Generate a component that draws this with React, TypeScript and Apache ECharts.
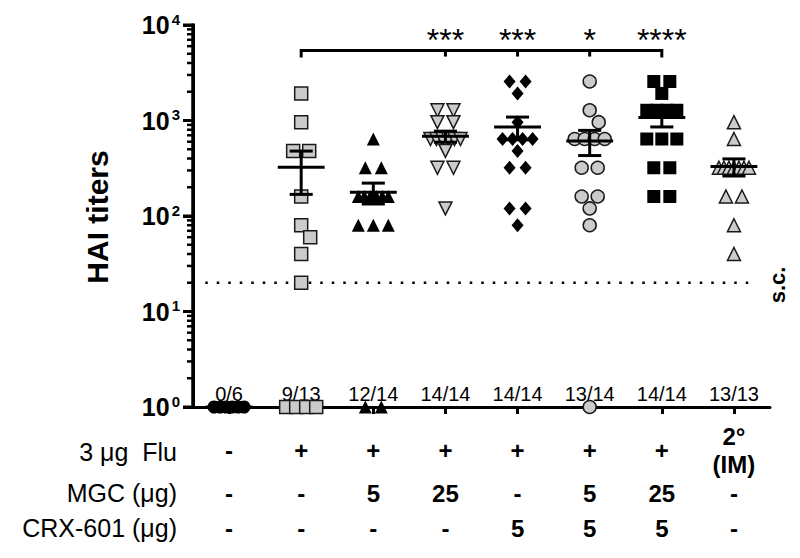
import React, { useEffect, useRef } from 'react';
import * as echarts from 'echarts';

// ---------- data ----------
const groups = ['Naive', 'Flu', 'Flu+MGC5', 'Flu+MGC25', 'Flu+CRX5', 'Flu+MGC5+CRX5', 'Flu+MGC25+CRX5', '2° IM'];
const responderLabels = ['0/6', '9/13', '12/14', '14/14', '14/14', '13/14', '14/14', '13/13'];

const g1Titers = [1, 1, 1, 1, 1, 1];
const g2Titers = [1920, 960, 480, 480, 160, 80, 60, 40, 20, 1, 1, 1, 1];
const g3Titers = [640, 320, 320, 160, 160, 160, 160, 160, 160, 80, 80, 80, 1, 1];
const g4Titers = [1280, 1280, 960, 960, 640, 640, 640, 640, 640, 640, 480, 320, 320, 120];
const g5Titers = [2560, 2560, 1920, 960, 640, 640, 640, 640, 480, 320, 320, 120, 120, 80];
const g6Titers = [2560, 1280, 960, 640, 640, 640, 640, 320, 320, 160, 160, 120, 80, 1];
const g7Titers = [2560, 2560, 1920, 1280, 1280, 1280, 1280, 640, 640, 640, 320, 320, 160, 160];
const g8Titers = [960, 640, 320, 320, 320, 320, 320, 320, 320, 160, 160, 80, 40];
const groupTiters = [g1Titers, g2Titers, g3Titers, g4Titers, g5Titers, g6Titers, g7Titers, g8Titers];

const fluRow = ['-', '+', '+', '+', '+', '+', '+', '2°\n(IM)'];
const mgcRow = ['-', '-', '5', '25', '-', '5', '25', '-'];
const crxRow = ['-', '-', '-', '-', '5', '5', '5', '-'];
const rowLabels = ['3 μg  Flu', 'MGC (μg)', 'CRX-601 (μg)'];

const sigReference = 1;
const sigGroups = [3, 4, 5, 6];
const sigLabels = ['***', '***', '*', '****'];
const bracketLevel = 5400;
const seroconversionLevel = 20;
const seroconversionLabel = 's.c.';
const yTitle = 'HAI titers';

const yMin = 1;
const yMax = 10000;
const yMajorTicks = [1, 10, 100, 1000, 10000];
const minorTickMultipliers = [2, 3, 4, 5, 6, 7, 8, 9];

// ---------- style ----------
const FONT = '"Liberation Sans", Arial, Helvetica, sans-serif';
const GRAY = '#cbcbcb';
const EDGE = '#1a1a1a';
const markerStyles: any[] = [
  { symbol: 'circle', size: 13, fill: '#000', border: false, rotate: 0 },
  { symbol: 'rect', size: 13, fill: GRAY, border: true, rotate: 0 },
  { symbol: 'triangle', size: 13, fill: '#000', border: false, rotate: 0 },
  { symbol: 'triangle', size: 13, fill: GRAY, border: true, rotate: 180 },
  { symbol: 'diamond', size: [12, 14], fill: '#000', border: false, rotate: 0 },
  { symbol: 'circle', size: 13, fill: GRAY, border: true, rotate: 0 },
  { symbol: 'rect', size: 13, fill: '#000', border: false, rotate: 0 },
  { symbol: 'triangle', size: 13, fill: GRAY, border: true, rotate: 0 },
];

// approximate pixel scale used only to lay out the scatter horizontally
const PX_PER_CAT = 72;
const PX_PER_DECADE = 95.5;
const SINGLE_STEP = 9;
const ROW_STEP = 16;
const ROW_SPAN = 30;

function swarm(values: number[], size: number): number[][] {
  const counts = new Map<number, number>();
  values.forEach((v) => counts.set(v, (counts.get(v) || 0) + 1));
  const uniq = Array.from(counts.keys()).sort((a, b) => b - a);
  const placed: { px: number; py: number }[] = [];
  const out: number[][] = [];
  for (const v of uniq) {
    const n = counts.get(v)!;
    const py = Math.log10(v) * PX_PER_DECADE;
    let xs: number[];
    if (n === 1) {
      const cands = [0, SINGLE_STEP, -SINGLE_STEP, 2 * SINGLE_STEP, -2 * SINGLE_STEP];
      let chosen = 0;
      for (const c of cands) {
        if (placed.every((p) => Math.hypot(p.px - c, p.py - py) >= size * 0.95)) {
          chosen = c;
          break;
        }
      }
      xs = [chosen];
    } else {
      const sp = Math.min(ROW_STEP, ROW_SPAN / (n - 1));
      xs = Array.from({ length: n }, (_, k) => (k - (n - 1) / 2) * sp);
    }
    xs.forEach((px) => {
      placed.push({ px, py });
      out.push([px / PX_PER_CAT, v]);
    });
  }
  return out;
}

function meanSem(values: number[]) {
  const n = values.length;
  const m = values.reduce((a, b) => a + b, 0) / n;
  const sd = Math.sqrt(values.reduce((a, b) => a + (b - m) * (b - m), 0) / (n - 1));
  const sem = sd / Math.sqrt(n);
  return [m, Math.max(m - sem, yMin), m + sem];
}

export default function App() {
  const ref = useRef<HTMLDivElement>(null);

  useEffect(() => {
    if (!ref.current) return;
    const chart = echarts.init(ref.current, undefined, { renderer: 'svg' });

    const minorTicks: number[] = [];
    for (let e = 0; Math.pow(10, e) < yMax; e++) {
      minorTickMultipliers.forEach((m) => minorTicks.push(m * Math.pow(10, e)));
    }

    const scatterSeries = groupTiters.map((vals, gi) => {
      const st = markerStyles[gi];
      const sizeNum = Array.isArray(st.size) ? st.size[1] : st.size;
      return {
        type: 'scatter',
        xAxisIndex: 1,
        yAxisIndex: 0,
        clip: false,
        symbol: st.symbol,
        symbolSize: st.size,
        symbolRotate: st.rotate,
        z: 3,
        itemStyle: {
          color: st.fill,
          borderColor: st.border ? EDGE : st.fill,
          borderWidth: st.border ? 1.5 : 0,
          opacity: 1,
        },
        data: swarm(vals, sizeNum).map(([dx, v]) => [gi + dx, v]),
      };
    });

    const stats = groupTiters.map((vals, gi) => [gi, ...meanSem(vals)]);

    const lineStyle = { stroke: '#000', lineWidth: 3 };

    const hiddenCat = (offset: number, row: string[], extra: any = {}) => ({
      type: 'category', data: groups, offset, position: 'bottom',
      axisLine: { show: false, onZero: false }, axisTick: { show: false }, splitLine: { show: false },
      axisLabel: {
        margin: 0, interval: 0, verticalAlign: 'middle', fontSize: 24, fontWeight: 'bold',
        fontFamily: FONT, color: '#000', formatter: (_v: string, i: number) => row[i], ...extra,
      },
    });

    const textGraphics: any[] = [
      {
        type: 'text',
        x: 97,
        y: 217,
        rotation: Math.PI / 2,
        style: { text: yTitle, font: `bold 30px ${FONT}`, fill: '#000', textAlign: 'center', textVerticalAlign: 'middle' },
      },
      {
        type: 'text',
        x: 777,
        y: 285,
        rotation: Math.PI / 2,
        style: { text: seroconversionLabel, font: `bold 22px ${FONT}`, fill: '#000', textAlign: 'center', textVerticalAlign: 'middle' },
      },
      ...rowLabels.map((t, k) => ({
        type: 'text',
        x: 177,
        y: [452, 493, 528][k],
        style: { text: t, font: `25px ${FONT}`, fill: '#000', textAlign: 'right', textVerticalAlign: 'middle' },
      })),
    ];

    const option: any = {
      animation: false,
      grid: { left: 193, right: 30, top: 25, bottom: 151, containLabel: false },
      xAxis: [
        {
          type: 'category',
          data: groups,
          boundaryGap: true,
          position: 'bottom',
          axisLine: { show: true, onZero: false, lineStyle: { color: '#000', width: 3 } },
          axisTick: { show: true, alignWithLabel: true, length: 7, lineStyle: { color: '#000', width: 3 } },
          axisLabel: {
            inside: true,
            margin: 3,
            interval: 0,
            fontSize: 20,
            fontFamily: FONT,
            color: '#000',
            formatter: (_v: string, i: number) => responderLabels[i],
          },
          splitLine: { show: false },
        },
        { type: 'value', min: -0.5, max: 7.5, show: false, axisLine: { onZero: false } },
        hiddenCat(43, fluRow, { lineHeight: 28 }),
        hiddenCat(86, mgcRow),
        hiddenCat(121, crxRow),
      ],
      yAxis: {
        type: 'log',
        logBase: 10,
        min: yMin,
        max: yMax,
        position: 'left',
        axisLine: { show: true, onZero: false, lineStyle: { color: '#000', width: 3 } },
        axisTick: { show: true, length: 10, lineStyle: { color: '#000', width: 3 } },
        minorTick: { show: false },
        splitLine: { show: false },
        axisLabel: {
          margin: 13,
          color: '#000',
          formatter: (v: number) => `{b|10}{s|${Math.round(Math.log10(v))}}`,
          rich: {
            b: { fontSize: 25, fontWeight: 'bold', fontFamily: FONT, color: '#000', lineHeight: 27 },
            s: { fontSize: 15, fontWeight: 'bold', fontFamily: FONT, color: '#000', verticalAlign: 'top', lineHeight: 15, padding: [0, 0, 0, 2] },
          },
        },
      },
      series: [
        // seroconversion dotted line
        {
          type: 'line',
          xAxisIndex: 1,
          yAxisIndex: 0,
          symbol: 'none',
          silent: true,
          z: 1,
          lineStyle: { color: '#000', width: 2.5, type: [2.5, 9] },
          data: [[-0.33, seroconversionLevel], [7.32, seroconversionLevel]],
        },
        ...scatterSeries,
        // mean ± SEM
        {
          type: 'custom',
          xAxisIndex: 1,
          yAxisIndex: 0,
          silent: true,
          z: 10,
          data: stats,
          encode: { x: 0, y: 1 },
          renderItem: (_p: any, api: any) => {
            const gi = api.value(0);
            const pm = api.coord([gi, api.value(1)]);
            const plo = api.coord([gi, api.value(2)]);
            const phi = api.coord([gi, api.value(3)]);
            const unit = api.coord([gi + 1, api.value(1)])[0] - pm[0];
            const hw = unit * 0.325;
            const cw = unit * 0.16;
            return {
              type: 'group',
              children: [
                { type: 'line', shape: { x1: pm[0] - hw, y1: pm[1], x2: pm[0] + hw, y2: pm[1] }, style: lineStyle },
                { type: 'line', shape: { x1: pm[0], y1: plo[1], x2: pm[0], y2: phi[1] }, style: lineStyle },
                { type: 'line', shape: { x1: pm[0] - cw, y1: plo[1], x2: pm[0] + cw, y2: plo[1] }, style: lineStyle },
                { type: 'line', shape: { x1: pm[0] - cw, y1: phi[1], x2: pm[0] + cw, y2: phi[1] }, style: lineStyle },
              ],
            };
          },
        },
        // significance bracket
        {
          type: 'custom',
          xAxisIndex: 1,
          yAxisIndex: 0,
          silent: true,
          z: 10,
          data: [[sigReference, bracketLevel]],
          encode: { x: 0, y: 1 },
          renderItem: (_p: any, api: any) => {
            const lvl = api.value(1);
            const left = api.coord([api.value(0), lvl]);
            const lastG = sigGroups[sigGroups.length - 1];
            const right = api.coord([lastG, lvl]);
            const children: any[] = [
              {
                type: 'polyline',
                shape: { points: [[left[0], left[1] + 7], [left[0], left[1]], [right[0], right[1]], [right[0], right[1] + 7]] },
                style: { stroke: '#000', lineWidth: 3, fill: 'none' },
              },
            ];
            sigGroups.forEach((g, k) => {
              const p = api.coord([g, lvl]);
              if (g !== lastG) {
                children.push({ type: 'line', shape: { x1: p[0], y1: p[1], x2: p[0], y2: p[1] + 6 }, style: lineStyle });
              }
              children.push({
                type: 'text',
                x: p[0],
                y: p[1] - 11,
                style: {
                  text: sigLabels[k],
                  font: `32px ${FONT}`,
                  fill: '#000',
                  align: 'center',
                  verticalAlign: 'middle',
                  textAlign: 'center',
                  textVerticalAlign: 'middle',
                },
              });
            });
            return { type: 'group', children };
          },
        },
      ],
      graphic: textGraphics,
    };

    chart.setOption(option);

    // y-axis frame: positions taken from the chart's own scales
    const toPx = (v: number) => chart.convertToPixel({ xAxisIndex: 1, yAxisIndex: 0 }, [-0.5, v]) as number[];
    const pBot = toPx(yMin);
    const pTop = toPx(yMax);
    const frame: any[] = [
      {
        type: 'rect',
        z: 100,
        shape: { x: pBot[0] - 1.75, y: pTop[1] - 1.5, width: 3.5, height: pBot[1] - pTop[1] + 3 },
        style: { fill: '#000' },
      },
      ...yMajorTicks.map((v) => {
        const p = toPx(v);
        return { type: 'rect', z: 100, shape: { x: p[0] - 10, y: p[1] - 1.5, width: 10, height: 3 }, style: { fill: '#000' } };
      }),
      ...minorTicks.map((v) => {
        const p = toPx(v);
        return { type: 'rect', z: 100, shape: { x: p[0] - 6, y: p[1] - 1.25, width: 6, height: 2.5 }, style: { fill: '#000' } };
      }),
    ];
    chart.setOption({ graphic: [...textGraphics, ...frame] });

    return () => chart.dispose();
  }, []);

  return <div ref={ref} style={{ position: 'fixed', left: 0, top: 0, width: 800, height: 558, background: '#fff' }} />;
}
